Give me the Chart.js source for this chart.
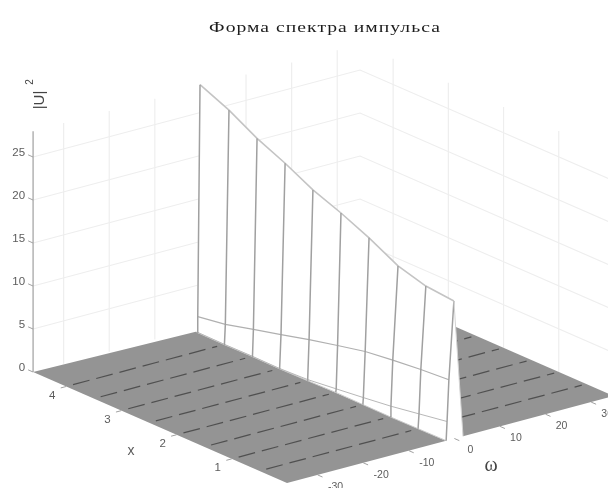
<!DOCTYPE html>
<html>
<head>
<meta charset="utf-8">
<style>
html,body{margin:0;padding:0;background:#fff;overflow:hidden}
canvas{display:block;filter:blur(0.7px)}
</style>
<script src="https://cdn.jsdelivr.net/npm/chart.js@4"></script>
</head>
<body>
<canvas id="c" width="608" height="488"></canvas>
<script>
const titleText = 'Форма спектра импульса';
const xRows = [0, 0.5, 1, 1.5, 2, 2.5, 3, 3.5, 4, 4.5];
const omegaBase = [-1.8, -1.9, -2.0, -1.9, -1.8, -2.0, -2.1, -2.0, -2.1, -2.0];
const omegaLow = [-1.6, -1.7, -1.8, -1.8, -1.7, -1.9, -2.0, -1.9, -2.0, -1.9];
const omegaMid = [-1.2, -1.3, -1.4, -1.4, -1.4, -1.6, -1.7, -1.7, -1.8, -1.8];
const omegaPeak = [-0.1, -0.2, -0.25, -0.55, -0.65, -0.75, -0.8, -0.9, -1.0, -1.3];
const powerLow = [2.2, 1.7, 1.2, 0.8, 0.4, 0.1, 0, 0, 0, 0];
const powerMid = [7.0, 6.8, 6.5, 6.1, 5.4, 4.7, 3.9, 3.1, 2.3, 1.8];
const powerPeak = [16.0, 16.35, 17.3, 19.2, 20.7, 22.0, 23.7, 25.2, 27.1, 28.7];
const footOmega = 1.9;
const xLimits = [0, 4.6];
const omegaLimits = [-36.7, 35];
const zTop = 28;
const xTicks = [1, 2, 3, 4];
const omegaTicks = [-30, -20, -10, 0, 10, 20, 30];
const zTicks = [0, 5, 10, 15, 20, 25];
const floorRows = [0.5, 1, 1.5, 2, 2.5, 3, 3.5, 4];

// oblique projection of (x, omega, z) to the canvas-sized scales
function P(x, w, z) {
  const dw = w - omegaLimits[0];
  return { x: 287 + 4.56 * dw - 55.2 * x, y: 483 - 1.213 * dw - 24.13 * x - 8.6 * z };
}
const xMax = xLimits[1], wMin = omegaLimits[0], wMax = omegaLimits[1];
const sets = [];
function line(pts, color, width, dash) {
  sets.push({ data: pts, showLine: true, borderColor: color, borderWidth: width, borderDash: dash || [],
    pointRadius: 0, fill: false, tension: 0 });
}
function poly(pts, color) {
  sets.push({ data: pts, showLine: true, borderColor: color, borderWidth: 0, pointRadius: 0,
    backgroundColor: color, fill: 'shape', tension: 0 });
}
const gridC = '#eeeeee';
// back walls
zTicks.filter(z => z > 0).forEach(z => {
  line([P(xMax, wMin, z), P(xMax, wMax, z), P(xLimits[0], wMax, z)], gridC, 1.2);
});
omegaTicks.forEach(w => line([P(xMax, w, 0), P(xMax, w, zTop)], gridC, 1.2));
xTicks.forEach(x => line([P(x, wMax, 0), P(x, wMax, zTop)], gridC, 1.2));
// floor
const grayC = '#949494';
poly([P(0, wMin, 0), P(xMax, wMin, 0), P(4.52, omegaBase[9], 0), P(0, omegaBase[0], 0)], grayC);
poly([P(0, footOmega, 0), P(0, wMax, 0), P(xMax, wMax, 0), P(xMax, footOmega, 0)], grayC);
const floorC = '#505050';
floorRows.forEach(x => {
  const baseW = omegaBase[xRows.indexOf(x)];
  line([P(x, wMin + 1.5, 0), P(x, baseW - 1.5, 0)], floorC, 1.2, [17, 7]);
  line([P(x, footOmega, 0), P(x, wMax - 1, 0)], floorC, 1.2, [17, 7]);
});
// pulse surface (white, hides what lies behind it)
const peakPts = xRows.map((x, i) => P(x, omegaPeak[i], powerPeak[i]));
const basePts = xRows.map((x, i) => P(x, omegaBase[i], 0));
poly([...basePts, ...peakPts.slice().reverse(), P(0, footOmega, 0)], '#ffffff');
const lowPts = xRows.map((x, i) => P(x, omegaLow[i], powerLow[i]));
const midPts = xRows.map((x, i) => P(x, omegaMid[i], powerMid[i]));
line(basePts, '#c9c9c9', 1);
line(lowPts, '#b8b8b8', 1);
line(midPts, '#b0b0b0', 1.2);
line(peakPts, '#c4c4c4', 1.6);
xRows.forEach((x, i) => {
  line([basePts[i], lowPts[i], midPts[i], peakPts[i]], '#a0a0a0', 1.5);
});
line([P(0, omegaPeak[0], powerPeak[0]), P(0, footOmega, 0)], '#d4d4d4', 1);
// axes
const axisC = '#a0a0a0';
line([P(xMax, wMin, 0), P(xMax, wMin, zTop)], axisC, 1.2);
zTicks.forEach(z => {
  const a = P(xMax, wMin, z);
  const b = P(xMax + 0.09, wMin, z);
  line([a, b], axisC, 1);
});
xTicks.forEach(x => line([P(x, wMin, 0), P(x, wMin - 1.2, 0)], axisC, 1));
omegaTicks.forEach(w => line([P(0, w, 0), P(-0.09, w, 0)], axisC, 1));

sets.forEach((s, i) => { s.order = sets.length - i; });

const labels3d = {
  id: 'labels3d',
  afterDraw(chart) {
    const { ctx, scales } = chart;
    const px = p => [scales.x.getPixelForValue(p.x), scales.y.getPixelForValue(p.y)];
    ctx.save();
    ctx.textBaseline = 'middle';
    ctx.fillStyle = '#5c5c5c';
    ctx.font = "11.5px 'Liberation Sans'";
    ctx.textAlign = 'right';
    zTicks.forEach(z => {
      const [a, b] = px(P(xMax, wMin, z));
      ctx.fillText(String(z), a - 8, b - 4);
    });
    ctx.textAlign = 'center';
    xTicks.forEach(x => {
      const [a, b] = px(P(x, wMin, 0));
      ctx.fillText(String(x), a - 14, b + 9);
    });
    ctx.font = "10.5px 'Liberation Sans'";
    omegaTicks.forEach(w => {
      const [a, b] = px(P(0, w, 0));
      ctx.fillText(String(w), a + (w < 0 ? 18 : 16), b + 12);
    });
    ctx.font = "14px 'Liberation Sans'";
    ctx.fillText('x', 131, 451);
    ctx.fillStyle = '#444';
    ctx.font = "20px 'Liberation Serif'";
    ctx.fillText('ω', 491, 466);
    ctx.save();
    ctx.fillStyle = '#1c1c1c';
    ctx.font = "14px 'Liberation Serif'";
    ctx.letterSpacing = '0.75px';
    ctx.translate(325, 28);
    ctx.scale(1.4, 1);
    ctx.fillText(titleText, 0, 0);
    ctx.restore();
    ctx.fillStyle = '#444';
    ctx.save();
    ctx.translate(40, 100);
    ctx.rotate(-Math.PI / 2);
    ctx.font = "15px 'Liberation Sans'";
    ctx.fillText('|U|', 0, 0);
    ctx.font = "10px 'Liberation Sans'";
    ctx.fillText('2', 18, -10);
    ctx.restore();
    ctx.restore();
  }
};

new Chart(document.getElementById('c'), {
  type: 'scatter',
  data: { datasets: sets },
  plugins: [labels3d],
  options: {
    responsive: false,
    animation: false,
    layout: { padding: 0 },
    plugins: { legend: { display: false }, tooltip: { enabled: false }, title: { display: false } },
    scales: {
      x: { type: 'linear', min: 0, max: 608, display: false },
      y: { type: 'linear', min: 0, max: 488, reverse: true, display: false }
    }
  }
});
</script>
</body>
</html>
